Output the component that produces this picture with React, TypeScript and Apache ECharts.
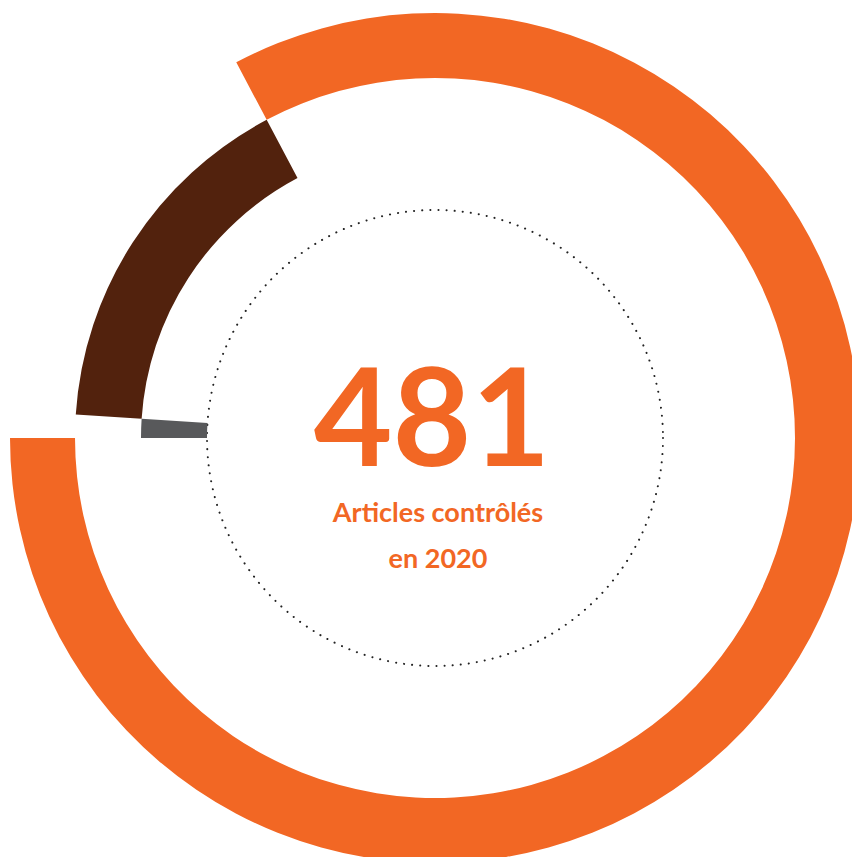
import React, { useEffect, useRef } from "react";
import * as echarts from "echarts";

const categories = ["Conformes", "Non conformes", "Autres"];
const values = [398, 78, 5];
const colors = ["#F26724", "#52220D", "#58595B"];
const totalLabel = "481";
const subtitleLines = ["Articles contrôlés", "en 2020"];

const radii: [number, number][] = [
  [360, 425],
  [294, 360],
  [228, 294],
];

export default function App() {
  const ref = useRef<HTMLDivElement>(null);
  useEffect(() => {
    if (!ref.current) return;
    const chart = echarts.init(ref.current, null, { renderer: "svg" });
    const cx = 435;
    const cy = 438;
    const series = categories.map((_, si) => ({
      type: "pie",
      center: [cx, cy],
      radius: radii[si],
      startAngle: 180,
      clockwise: false,
      silent: true,
      label: { show: false },
      labelLine: { show: false },
      emphasis: { disabled: true },
      data: categories.map((name, i) => ({
        name,
        value: values[i],
        itemStyle: { color: i === si ? colors[i] : "rgba(0,0,0,0)" },
      })),
    }));
    chart.setOption({
      animation: false,
      backgroundColor: "#ffffff",
      series,
      graphic: [
        {
          type: "circle",
          shape: { cx, cy, r: 228 },
          silent: true,
          style: {
            fill: "none",
            stroke: "#222222",
            lineWidth: 2,
            lineDash: [0.1, 8],
            lineCap: "round",
          },
        },
        {
          type: "text",
          x: 432,
          y: 413,
          style: {
            text: totalLabel,
            fill: "#F26724",
            font: "bold 136px Lato",
            textAlign: "center",
            textVerticalAlign: "middle",
          },
        },
        {
          type: "text",
          x: 438,
          y: 511,
          style: {
            text: subtitleLines[0],
            fill: "#F26724",
            font: "bold 27px Lato",
            textAlign: "center",
            textVerticalAlign: "middle",
          },
        },
        {
          type: "text",
          x: 438,
          y: 557,
          style: {
            text: subtitleLines[1],
            fill: "#F26724",
            font: "bold 27px Lato",
            textAlign: "center",
            textVerticalAlign: "middle",
          },
        },
      ],
    });
    return () => chart.dispose();
  }, []);
  return (
    <div
      ref={ref}
      style={{ position: "fixed", left: 0, top: 0, width: 852, height: 857 }}
    />
  );
}
